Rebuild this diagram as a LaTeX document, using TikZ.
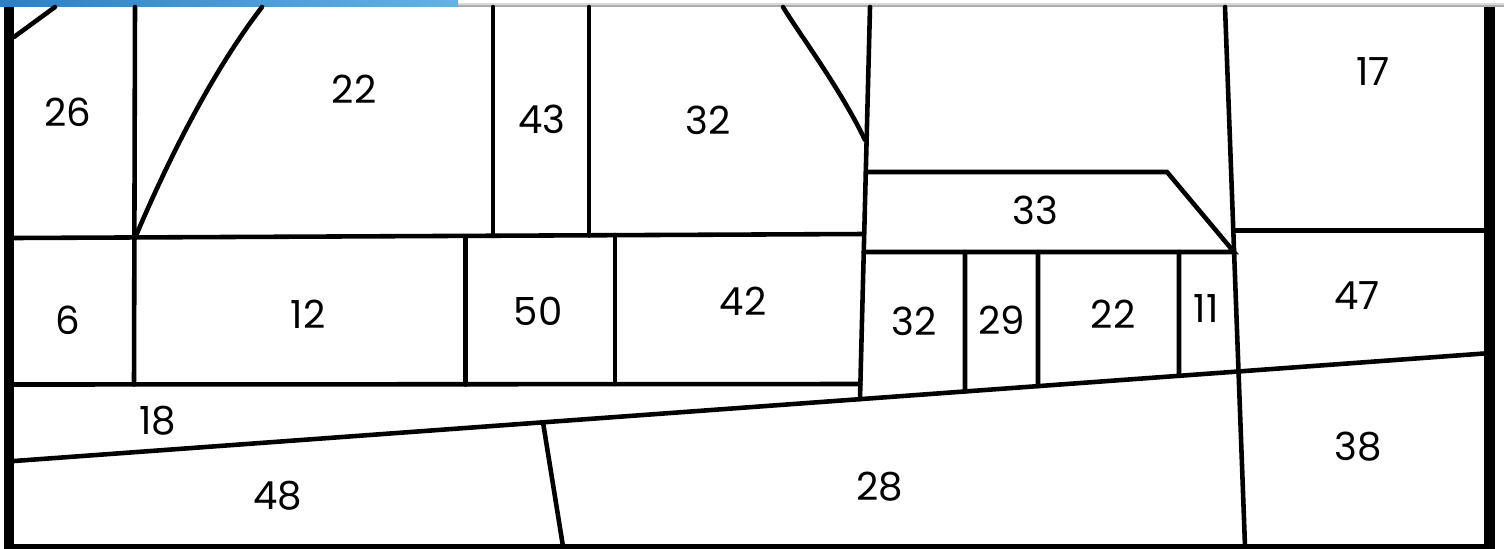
\documentclass[tikz,border=0pt]{standalone}
\usepackage{fontspec}
\setmainfont{Poppins}
\usetikzlibrary{calc}
\definecolor{barDark}{HTML}{2A80C8}
\definecolor{barLight}{HTML}{62B4E4}

\begin{document}
\begin{tikzpicture}[x=0.01cm, y=-0.01cm,
  seam/.style={draw=black, line width=1.3pt, line cap=round, line join=miter},
  rim/.style={draw=black, line width=2.9pt},
  num/.style={font=\fontsize{11}{13}\selectfont, inner sep=0pt, text=black},
]

\fill[white] (0,0) rectangle (1504,548);
\useasboundingbox (0,0) rectangle (1504,548);

% strip along the top edge
\fill[gray!30] (0,2.5) rectangle (1504,4.5);
\fill[gray!65] (0,4.5) rectangle (1504,6.5);
\shade[left color=barDark, right color=barLight] (0,0) rectangle (458,6.5);

% frame
\draw[rim] (9,7) -- (9,548);
\draw[rim] (1489.5,7) -- (1489.5,548);
\draw[seam, line cap=butt] (4,546.5) -- (1495,546.5);

% long slanted seam, and the points where others stop on it
\coordinate (Lw) at (14,461);
\coordinate (Le) at (1484,353.5);
\foreach \xx in {543,860,965,1038,1179}
  \coordinate (L\xx) at ($(Lw)!{(\xx-14)/1470}!(Le)$);
\draw[seam] (Lw) -- (Le);

% upper left block
\draw[seam] (14,238) -- (863,234);
\draw[seam] (14,384.5) -- (860.4,384);
\draw[seam] (135,7) -- (134,384.5);
\draw[seam] (493,7) -- (493,236);
\draw[seam] (589,7) -- (589,235.5);
\draw[seam] (465.5,236.5) -- (465.5,384.5);
\draw[seam] (615,235) -- (615,384);
\draw[seam] (14,37) -- (55,7);
\draw[seam] (135,238) .. controls (168,160) and (212,72) .. (262,7);
\draw[seam] (783,7) .. controls (798,32) and (840,88) .. (865,140);

% middle column
\draw[seam] (870,7) -- (L860);
\draw[seam] (865.8,172) -- (1167,172) -- (1234,252) -- (863.75,252);
\foreach \xx in {965,1038,1179}
  \draw[seam] (\xx,252) -- (L\xx);

% right column
\draw[seam] (1225,7) -- (1245,546.5);
\draw[seam] (1233.3,230.5) -- (1484,230.5);

% lower band
\draw[seam] (L543) -- (563,546.5);

% numbers
\foreach \nm/\px/\py/\lab in {
  a/68/112/26, b/354/89/22, c/542/119/43, d/708/120/32, e/1373/72/17,
  f/1035/210/33, g/68/320/6, h/308/314/12, i/538/311/50, j/743/301/42,
  k/914/321/32, l/1002/320/29, m/1113/314/22, n/1206/309/11, o/1357/296/47,
  p/158/421/18, q/278/496/48, r/880/487/28, s/1358/447/38}
  \node[num] (zone\nm) at (\px,\py) {\lab};

\end{tikzpicture}
\end{document}
